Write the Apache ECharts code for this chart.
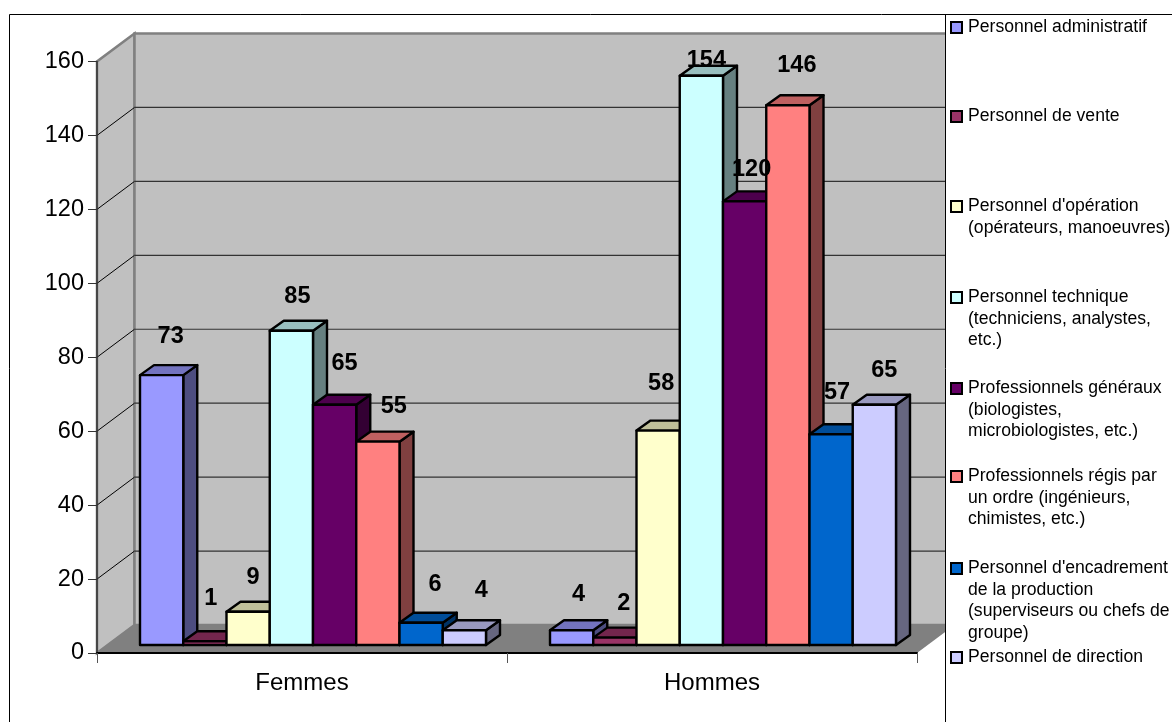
<!DOCTYPE html>
<html>
<head>
<meta charset="utf-8">
<style>html,body{margin:0;padding:0;background:#fff}#chart{width:1172px;height:722px}</style>
<script src="https://cdn.jsdelivr.net/npm/echarts@6/dist/echarts.min.js"></script>
</head>
<body>
<div id="chart"></div>
<script>
// Effectifs par catégorie de personnel, femmes et hommes
const categories = ['Femmes', 'Hommes'];
const administratif = [73, 4];
const vente = [1, 2];
const operation = [9, 58];
const technique = [85, 154];
const generaux = [65, 120];
const ordre = [55, 146];
const encadrement = [6, 57];
const direction = [4, 65];
const yTicks = [0, 20, 40, 60, 80, 100, 120, 140, 160];

const names = [
  'Personnel administratif',
  'Personnel de vente',
  "Personnel d'opération\n(opérateurs, manoeuvres)",
  'Personnel technique\n(techniciens, analystes,\netc.)',
  'Professionnels généraux\n(biologistes,\nmicrobiologistes, etc.)',
  'Professionnels régis par\nun ordre (ingénieurs,\nchimistes, etc.)',
  "Personnel d'encadrement\nde la production\n(superviseurs ou chefs de\ngroupe)",
  'Personnel de direction'
];
const seriesValues = [administratif, vente, operation, technique, generaux, ordre, encadrement, direction];
const colors = ['#9999FF', '#993366', '#FFFFCC', '#CCFFFF', '#660066', '#FF8080', '#0066CC', '#CCCCFF'];

// Hand-placed value labels: shift from the centre of each bar front, per category
const labelDx = [[9, 7], [6, 9], [5, 3], [6, 5], [10, 7], [16, 9], [14, 6], [17, 10]];
const labelDy = [[-39, -36], [-43, -34], [-34, -47], [-34, -15], [-41, -32], [-35, -40], [-38, -42], [-40, -34]];
const legendLineY = [27.5, 116.5, 206.5, 297.5, 388.5, 476.5, 568.5, 657.5];

// Pseudo-3D projection
const WALL = [37.5, -28];   // depth of the box
const INSET = [11, -8];     // distance of the bars from the front edge
const DEPTH = [14, -10];    // depth of a bar
const BARS_PER_BAND = 9.48;
const FONT = '"Liberation Sans", Arial, sans-serif';

function shade(hex, k) {
  const n = parseInt(hex.slice(1), 16);
  const c = [(n >> 16) & 255, (n >> 8) & 255, n & 255].map(v => Math.round(v * k));
  return 'rgb(' + c.join(',') + ')';
}

function renderBox(params, api) {
  if (params.dataIndex !== 0) return null;
  const y0 = api.coord([0, 0])[1];
  const y1 = api.coord([0, 160])[1];
  const band = api.size([1, 0])[0];
  const x0 = api.coord([0, 0])[0] - band / 2;
  const x1 = x0 + band * categories.length;
  const [dx, dy] = WALL;
  const wallStyle = { fill: '#C0C0C0', stroke: '#808080', lineWidth: 2.5 };
  const children = [
    { type: 'polygon', shape: { points: [[x0, y0], [x0, y1], [x0 + dx, y1 + dy], [x0 + dx, y0 + dy]] }, style: wallStyle },
    { type: 'polygon', shape: { points: [[x0 + dx, y0 + dy], [x0 + dx, y1 + dy], [x1 + dx, y1 + dy], [x1 + dx, y0 + dy]] }, style: wallStyle },
    { type: 'polygon', shape: { points: [[x0, y0], [x0 + dx, y0 + dy], [x1 + dx, y0 + dy], [x1, y0]] }, style: { fill: '#808080' } }
  ];
  yTicks.slice(1, -1).forEach(t => {
    const y = api.coord([0, t])[1];
    children.push({ type: 'line', shape: { x1: x0, y1: y, x2: x0 + dx, y2: y + dy }, style: { stroke: '#000', lineWidth: 1 } });
    children.push({ type: 'line', shape: { x1: x0 + dx, y1: y + dy, x2: x1 + dx, y2: y + dy }, style: { stroke: '#333', lineWidth: 1.2 } });
  });
  return { type: 'group', children };
}

function barFront(api, s, cat, value) {
  const w = api.size([1, 0])[0] / BARS_PER_BAND;
  const base = api.coord([cat, 0]);
  const top = api.coord([cat, value]);
  const left = base[0] + INSET[0] + (s - seriesValues.length / 2) * w;
  return { left, right: left + w, bottom: base[1] + INSET[1], top: top[1] + INSET[1] };
}

function renderBar(s) {
  return function (params, api) {
    const f = barFront(api, s, api.value(0), api.value(1));
    const [dx, dy] = DEPTH;
    const line = { stroke: '#000', lineWidth: 2.4, lineJoin: 'round' };
    return {
      type: 'group',
      children: [
        { type: 'polygon', shape: { points: [[f.right, f.bottom], [f.right, f.top], [f.right + dx, f.top + dy], [f.right + dx, f.bottom + dy]] },
          style: Object.assign({ fill: shade(colors[s], 0.5) }, line) },
        { type: 'polygon', shape: { points: [[f.left, f.top], [f.left + dx, f.top + dy], [f.right + dx, f.top + dy], [f.right, f.top]] },
          style: Object.assign({ fill: shade(colors[s], 0.75) }, line) },
        { type: 'rect', shape: { x: f.left, y: f.top, width: f.right - f.left, height: f.bottom - f.top },
          style: Object.assign({ fill: colors[s] }, line) }
      ]
    };
  };
}

function renderLabel(params, api) {
  const s = api.value(0), cat = api.value(1), value = api.value(2);
  const f = barFront(api, s, cat, value);
  return {
    type: 'text',
    style: {
      text: String(value),
      x: (f.left + f.right) / 2 + labelDx[s][cat],
      y: f.top + labelDy[s][cat],
      align: 'center', verticalAlign: 'middle',
      font: 'bold 23.5px ' + FONT, fill: '#000'
    }
  };
}

const labelData = [];
seriesValues.forEach((vals, s) => vals.forEach((v, c) => labelData.push([s, c, v])));

// Legend panel on the right, with symbols aligned on the first line of each entry
const legendElements = [
  { type: 'rect', z: 20, shape: { x: 945, y: 15, width: 227, height: 707 }, style: { fill: '#fff' } },
  { type: 'line', z: 21, shape: { x1: 945.5, y1: 15, x2: 945.5, y2: 722 }, style: { stroke: '#000', lineWidth: 1 } },
  { type: 'line', z: 21, shape: { x1: 9.5, y1: 14.5, x2: 1172, y2: 14.5 }, style: { stroke: '#000', lineWidth: 1 } },
  { type: 'line', z: 21, shape: { x1: 9.5, y1: 14.5, x2: 9.5, y2: 722 }, style: { stroke: '#000', lineWidth: 1 } }
];
names.forEach((name, i) => {
  const y = legendLineY[i];
  legendElements.push({ type: 'rect', z: 22, shape: { x: 951, y: y - 5.5, width: 11, height: 11 },
    style: { fill: colors[i], stroke: '#000', lineWidth: 2 } });
  legendElements.push({ type: 'text', z: 22, x: 968, y: y - 10.7,
    style: { text: name, font: '17.6px ' + FONT, lineHeight: 21.4, fill: '#000', verticalAlign: 'top', align: 'left' } });
});

const chart = echarts.init(document.getElementById('chart'), null, { renderer: 'canvas' });
chart.setOption({
  animation: false,
  backgroundColor: '#fff',
  grid: { left: 97, top: 61.5, width: 820, height: 591.5 },
  xAxis: {
    type: 'category', data: categories, z: 6,
    axisLine: { lineStyle: { color: '#000', width: 2 } },
    axisTick: { show: true, length: 10, lineStyle: { color: '#555', width: 1 } },
    axisLabel: { color: '#000', fontSize: 24, fontFamily: FONT, margin: 18 },
    splitLine: { show: false }
  },
  yAxis: {
    type: 'value', min: 0, max: 160, interval: 20, z: 6,
    axisLine: { show: true, lineStyle: { color: '#333', width: 1.5 } },
    axisTick: { show: true, length: 9, lineStyle: { color: '#333', width: 1 } },
    axisLabel: { color: '#000', fontSize: 23.5, fontFamily: FONT, margin: 13, lineHeight: 26, padding: [4, 0, 0, 0] },
    splitLine: { show: false }
  },
  graphic: { elements: legendElements },
  series: [
    { type: 'custom', name: 'cadre', silent: true, z: 1, clip: false, data: [[0, 0]], encode: { x: 0, y: 1 }, renderItem: renderBox }
  ].concat(names.map((name, s) => ({
    type: 'custom', name: name, z: 2, clip: false,
    data: seriesValues[s].map((v, c) => [c, v]),
    encode: { x: 0, y: 1 },
    renderItem: renderBar(s)
  }))).concat([
    { type: 'custom', name: 'valeurs', silent: true, z: 8, clip: false, data: labelData, encode: { x: 1, y: 2 }, renderItem: renderLabel }
  ])
});
</script>
</body>
</html>
